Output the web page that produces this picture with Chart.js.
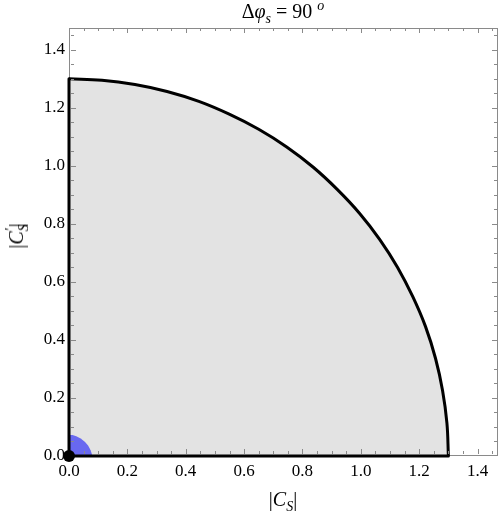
<!DOCTYPE html>
<html>
<head>
<meta charset="utf-8">
<script src="https://cdn.jsdelivr.net/npm/chart.js@4.4.0/dist/chart.umd.min.js"></script>
<style>
body { margin: 0; background: #fff; }
#wrap { position: relative; width: 500px; height: 517px; }
.lbl { position: absolute; font-family: "Liberation Serif", serif; font-size: 20px; line-height: 1; color: #000; white-space: nowrap; }
.lbl sub, .lbl sup { font-size: 70%; line-height: 0; }
#title { left: 283px; top: 1px; transform: translateX(-50%); }
#xlab { left: 283px; top: 489px; transform: translateX(-50%); }
#ylab { left: 16px; top: 236px; transform: translate(-50%, -50%) rotate(-90deg); }
</style>
</head>
<body>
<div id="wrap">
  <canvas id="myChart" width="500" height="517"></canvas>
  <div class="lbl" id="title">&Delta;<i>&phi;</i><sub><i>s</i></sub> = 90 <sup><i>o</i></sup></div>
  <div class="lbl" id="xlab">|<i>C</i><sub><i>S</i></sub>|</div>
  <div class="lbl" id="ylab">|<i>C</i><sub><i>S</i></sub><sup style="margin-left:-0.45em">&prime;</sup>|</div>
</div>
<script>
// allowed region boundary (quarter circle)
var arcX = [0.000, 0.113, 0.226, 0.336, 0.445, 0.549, 0.650, 0.746, 0.836, 0.919,
            0.996, 1.065, 1.126, 1.178, 1.222, 1.256, 1.280, 1.295, 1.300];
var arcY = [1.300, 1.295, 1.280, 1.256, 1.222, 1.178, 1.126, 1.065, 0.996, 0.919,
            0.836, 0.746, 0.650, 0.549, 0.445, 0.336, 0.226, 0.113, 0.000];

// straight edges of the region along the axes
var edgeX = [0, 0, 1.300];
var edgeY = [1.300, 0, 0];

// small blue region near the origin
var blobX = [0, 0, 0.012, 0.025, 0.040, 0.055, 0.066, 0.074, 0.078, 0.079, 0];
var blobY = [0, 0.072, 0.072, 0.068, 0.060, 0.048, 0.035, 0.020, 0.008, 0, 0];

// SM point
var smX = [0];
var smY = [0];

var xMax = 1.47;
var yMax = 1.475;
var minorStep = 0.05;
var majorStep = 0.2;

function pts(xs, ys) {
  var out = [];
  for (var i = 0; i < xs.length; i++) out.push({x: xs[i], y: ys[i]});
  return out;
}
var region = [{x: 0, y: 0}].concat(pts(arcX, arcY)).concat([{x: 0, y: 0}]);

function isMajor(v) {
  var r = v / majorStep;
  return Math.abs(r - Math.round(r)) < 1e-6;
}
function setTicks(scale) {
  var t = [];
  for (var i = 0; i * minorStep <= scale.max + 1e-9; i++) t.push({value: Math.round(i * minorStep * 100) / 100});
  scale.ticks = t;
}

// grey frame on all four sides with inward ticks, like the original plot
var frameTicks = {
  id: 'frameTicks',
  beforeDatasetsDraw: function (chart) {
    var a = chart.chartArea, ctx = chart.ctx;
    ctx.save();
    ctx.strokeStyle = '#8a8a8a';
    ctx.lineWidth = 1;
    ctx.strokeRect(Math.round(a.left) + 0.5, Math.round(a.top) + 0.5,
                   Math.round(a.right - a.left) - 1, Math.round(a.bottom - a.top) - 1);
    ctx.restore();
  },
  afterDatasetsDraw: function (chart) {
    var a = chart.chartArea, ctx = chart.ctx;
    var xs = chart.scales.x, ys = chart.scales.y;
    ctx.save();
    ctx.strokeStyle = '#8a8a8a';
    ctx.lineWidth = 1;
    ctx.beginPath();
    xs.ticks.forEach(function (t) {
      if (t.value === 0) return;
      var px = Math.round(xs.getPixelForValue(t.value)) + 0.5;
      var len = isMajor(t.value) ? 5 : 3;
      ctx.moveTo(px, a.bottom - 2); ctx.lineTo(px, a.bottom - 2 - len);
      ctx.moveTo(px, a.top); ctx.lineTo(px, a.top + len);
    });
    ys.ticks.forEach(function (t) {
      if (t.value === 0) return;
      var py = Math.round(ys.getPixelForValue(t.value)) + 0.5;
      var len = isMajor(t.value) ? 5 : 3;
      ctx.moveTo(a.left + 2, py); ctx.lineTo(a.left + 2 + len, py);
      ctx.moveTo(a.right - 1, py); ctx.lineTo(a.right - 1 - len, py);
    });
    ctx.stroke();
    ctx.restore();
  }
};

Chart.defaults.font.family = '"Liberation Serif", serif';
Chart.defaults.color = '#000';

new Chart("myChart", {
  type: "scatter",
  data: {
    datasets: [
      {
        data: pts(smX, smY),
        pointRadius: 6,
        pointBackgroundColor: '#000',
        pointBorderWidth: 0,
        clip: false,
        order: 0
      },
      {
        data: pts(arcX, arcY),
        showLine: true,
        fill: false,
        borderColor: '#000',
        borderWidth: 3,
        tension: 0.4,
        pointRadius: 0,
        clip: false,
        order: 1
      },
      {
        data: pts(edgeX, edgeY),
        showLine: true,
        fill: false,
        borderColor: '#000',
        borderWidth: 3,
        borderJoinStyle: 'round',
        borderCapStyle: 'round',
        pointRadius: 0,
        clip: false,
        order: 1
      },
      {
        data: pts(blobX, blobY),
        showLine: true,
        fill: 'shape',
        backgroundColor: 'rgb(104,104,240)',
        borderWidth: 0,
        pointRadius: 0,
        order: 2
      },
      {
        data: region,
        showLine: true,
        fill: 'shape',
        backgroundColor: '#e3e3e3',
        borderWidth: 0,
        pointRadius: 0,
        order: 3
      }
    ]
  },
  options: {
    responsive: false,
    animation: false,
    layout: { autoPadding: false, padding: { top: 28, right: 2, left: 0, bottom: 0 } },
    plugins: {
      legend: { display: false },
      tooltip: { enabled: false },
      title: { display: false }
    },
    scales: {
      x: {
        type: 'linear',
        bounds: 'data',
        min: 0,
        max: xMax,
        afterBuildTicks: setTicks,
        afterFit: function (s) { s.height = 61; s.paddingLeft = 0; s.paddingRight = 0; },
        grid: { display: false, drawTicks: false },
        border: { display: false },
        ticks: {
          autoSkip: false,
          maxRotation: 0,
          padding: 5,
          font: { size: 17 },
          callback: function (v) { return isMajor(v) ? v.toFixed(1) : ''; }
        }
      },
      y: {
        type: 'linear',
        bounds: 'data',
        min: 0,
        max: yMax,
        afterBuildTicks: setTicks,
        afterFit: function (s) { s.width = 69; s.paddingTop = 0; s.paddingBottom = 0; },
        grid: { display: false, drawTicks: false },
        border: { display: false },
        ticks: {
          autoSkip: false,
          padding: 4,
          font: { size: 17 },
          callback: function (v) { return isMajor(v) ? v.toFixed(1) : ''; }
        }
      }
    }
  },
  plugins: [frameTicks]
});
</script>
</body>
</html>
